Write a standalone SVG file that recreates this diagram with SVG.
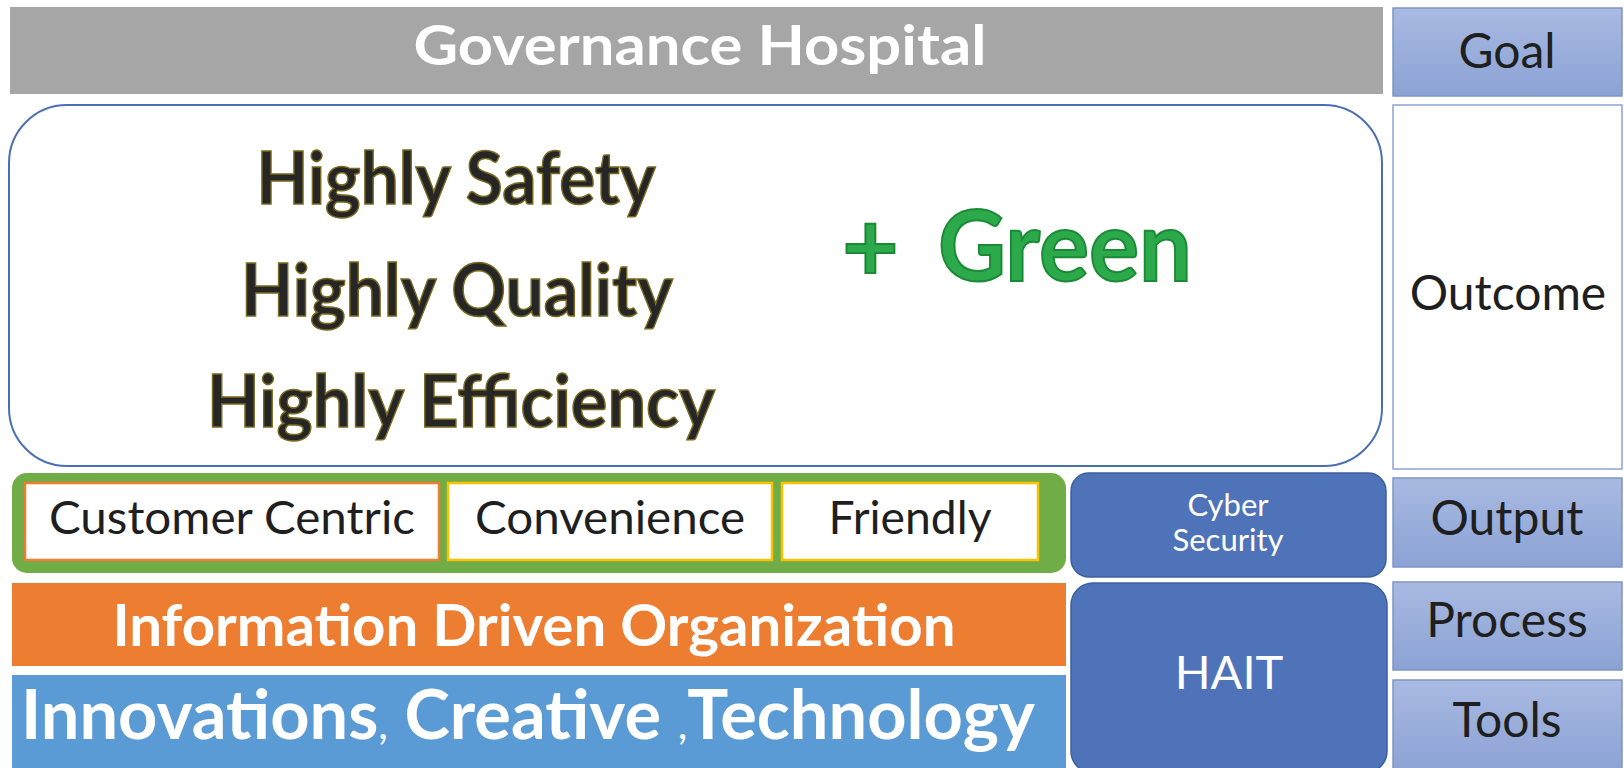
<svg xmlns="http://www.w3.org/2000/svg" width="1624" height="768" viewBox="0 0 1624 768">
<style>
.lbl{fill:url(#lg);stroke:#7F95C6;stroke-width:1.5}
.ltxt{font-family:Lato,"Liberation Sans",sans-serif;font-size:48px;fill:#1f1f1f;text-anchor:middle}
.wb{font-family:Lato,"Liberation Sans",sans-serif;font-weight:bold;fill:#ffffff;text-anchor:middle}
.hi{font-family:Lato,"Liberation Sans",sans-serif;font-weight:bold;font-size:72px;fill:#262626;stroke:#7a6a1f;stroke-width:1.5;text-anchor:middle}
.gr{font-family:Lato,"Liberation Sans",sans-serif;font-weight:bold;font-size:98px;fill:#2CAA4B;stroke:#1A8A36;stroke-width:2}
.item{fill:#ffffff;stroke-width:2.5}
.itxt{font-family:Lato,"Liberation Sans",sans-serif;font-size:46px;fill:#1f1f1f;text-anchor:middle}
.hb{fill:#4F73B9;stroke:#3E5F9F;stroke-width:1.5}
.wt{font-family:Lato,"Liberation Sans",sans-serif;fill:#ffffff;text-anchor:middle}
</style>
<defs>
<linearGradient id="lg" x1="0" y1="0" x2="0" y2="1">
<stop offset="0" stop-color="#A9BAE2"/>
<stop offset="1" stop-color="#8BA2D4"/>
</linearGradient>
</defs>
<rect width="1624" height="768" fill="#ffffff"/>

<g id="governance">
<rect x="10" y="7" width="1373" height="87" fill="#A6A6A6"/>
<text class="wb" x="700" y="65" font-size="56" textLength="573" lengthAdjust="spacingAndGlyphs">Governance Hospital</text>
</g>

<g id="goal">
<rect class="lbl" x="1393" y="8" width="229" height="88"/>
<text class="ltxt" x="1507" y="68">Goal</text>
</g>

<g id="outcome-area">
<rect x="9" y="105" width="1373" height="361" rx="58" ry="58" fill="#ffffff" stroke="#4A6FB5" stroke-width="2"/>
<text class="hi" x="456" y="204" textLength="399" lengthAdjust="spacingAndGlyphs">Highly Safety</text>
<text class="hi" x="457" y="316" textLength="432" lengthAdjust="spacingAndGlyphs">Highly Quality</text>
<text class="hi" x="461" y="427" textLength="508" lengthAdjust="spacingAndGlyphs">Highly Efficiency</text>
<text class="gr" y="281"><tspan x="842">+</tspan><tspan x="938" textLength="254" lengthAdjust="spacingAndGlyphs">Green</tspan></text>
</g>

<g id="outcome">
<rect x="1393" y="105" width="229" height="364" fill="#ffffff" stroke="#8EA3D6" stroke-width="1.5"/>
<text class="ltxt" x="1508" y="310" font-size="51">Outcome</text>
</g>

<g id="services">
<rect x="12" y="473" width="1054" height="100" rx="15" ry="15" fill="#70AD47"/>
<g id="customer-centric">
<rect class="item" x="25" y="483" width="414" height="77" stroke="#ED7D31"/>
<text class="itxt" x="232" y="534" textLength="366" lengthAdjust="spacingAndGlyphs">Customer Centric</text>
</g>
<g id="convenience">
<rect class="item" x="448" y="483" width="324" height="77" stroke="#FFC000"/>
<text class="itxt" x="610" y="534" textLength="270" lengthAdjust="spacingAndGlyphs">Convenience</text>
</g>
<g id="friendly">
<rect class="item" x="782" y="483" width="256" height="77" stroke="#FFC000"/>
<text class="itxt" x="910" y="534" textLength="163" lengthAdjust="spacingAndGlyphs">Friendly</text>
</g>
</g>

<g id="cyber-security">
<rect class="hb" x="1071" y="473" width="315" height="104" rx="18" ry="18"/>
<text class="wt" x="1228" y="516" font-size="31">Cyber</text>
<text class="wt" x="1228" y="551" font-size="31">Security</text>
</g>

<g id="output">
<rect class="lbl" x="1393" y="478" width="229" height="89"/>
<text class="ltxt" x="1507" y="535">Output</text>
</g>

<g id="information-driven">
<rect x="12" y="583" width="1054" height="83" fill="#ED7D31"/>
<text class="wb" x="534" y="646" font-size="58" textLength="843" lengthAdjust="spacingAndGlyphs">Information Driven Organization</text>
</g>

<g id="innovations">
<rect x="12" y="675" width="1054" height="93" fill="#5B9BD5"/>
<text class="wb" x="528" y="739" font-size="68" textLength="1014" lengthAdjust="spacingAndGlyphs">Innovations<tspan font-weight="normal" font-size="42">,</tspan> Creative <tspan font-weight="normal" font-size="42">,</tspan>Technology</text>
</g>

<g id="hait">
<rect class="hb" x="1071" y="583" width="316" height="190" rx="22" ry="22"/>
<text class="wt" x="1229" y="689" font-size="47">HAIT</text>
</g>

<g id="process">
<rect class="lbl" x="1393" y="582" width="229" height="88"/>
<text class="ltxt" x="1507" y="637">Process</text>
</g>

<g id="tools">
<rect class="lbl" x="1393" y="680" width="229" height="92"/>
<text class="ltxt" x="1507" y="737">Tools</text>
</g>

<g id="connectors"></g>
</svg>
